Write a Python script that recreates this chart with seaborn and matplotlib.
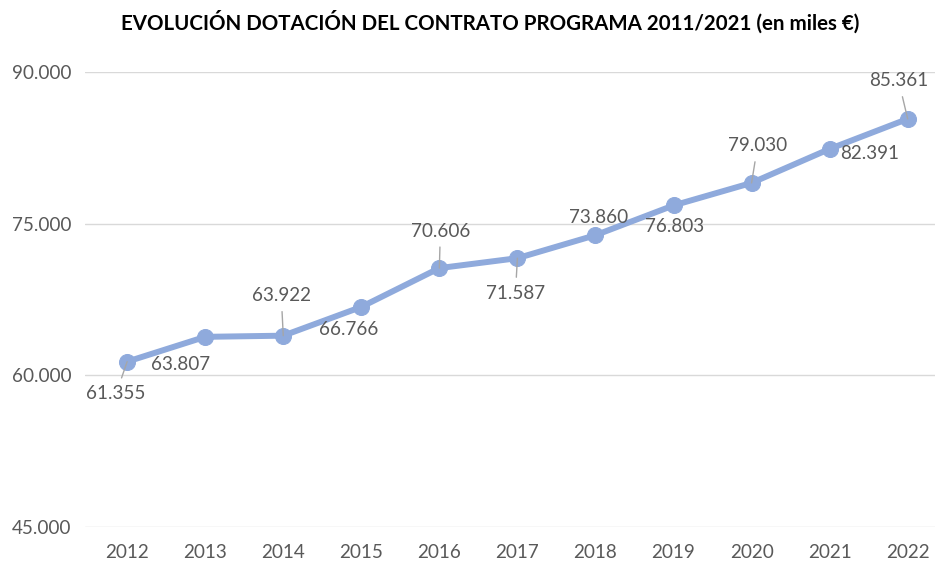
import matplotlib
matplotlib.use("Agg")
import matplotlib.pyplot as plt
import matplotlib.ticker as mticker
import seaborn as sns
import pandas as pd

years = [2012, 2013, 2014, 2015, 2016, 2017, 2018, 2019, 2020, 2021, 2022]
values = [61355, 63807, 63922, 66766, 70606, 71587, 73860, 76803, 79030, 82391, 85361]
labels = ["61.355", "63.807", "63.922", "66.766", "70.606", "71.587",
          "73.860", "76.803", "79.030", "82.391", "85.361"]
y_ticks = [45000, 60000, 75000, 90000]
title = "EVOLUCIÓN DOTACIÓN DEL CONTRATO PROGRAMA 2011/2021 (en miles €)"

# label offsets in pixels (dx, dy) and whether a leader line is drawn
offsets = [(-11, -32), (-25, -28), (-2, 40), (-13, -23), (1, 37), (-2, -35),
           (3, 18), (1, -21), (6, 37), (40, -5), (-9, 38)]
leaders = [True, False, True, False, True, True, False, False, True, False, True]

sns.set_theme(style="white")
plt.rcParams["font.family"] = ["Lato", "DejaVu Sans"]

fig = plt.figure(figsize=(9.36, 5.61), dpi=100)
ax = fig.add_axes([85 / 936, 1 - 527 / 561, 850 / 936, (527 - 72) / 561])

line_color = "#8faadc"
text_color = "#595959"

df = pd.DataFrame({"year": years, "value": values})
sns.lineplot(data=df, x="year", y="value", ax=ax, color=line_color,
             linewidth=4.3, marker="o", markersize=11.5,
             markeredgecolor=line_color, markerfacecolor=line_color, zorder=3)

ax.set_xlim(2011.46, 2022.35)
ax.set_ylim(45000, 90000)
ax.set_yticks(y_ticks)
ax.yaxis.set_major_formatter(mticker.FuncFormatter(
    lambda v, p: f"{int(v):,}".replace(",", ".")))
ax.set_xticks(years)
ax.set_xticklabels([str(y) for y in years])
ax.grid(axis="y", color="#d9d9d9", linewidth=1)
ax.grid(axis="x", visible=False)
for s in ax.spines.values():
    s.set_visible(False)
ax.tick_params(axis="both", length=0, labelsize=13.6, colors=text_color)
ax.tick_params(axis="y", pad=10)
ax.tick_params(axis="x", pad=12)
ax.set_xlabel("")
ax.set_ylabel("")

for yr, v, lab, (dx, dy), ld in zip(years, values, labels, offsets, leaders):
    kw = {}
    if ld:
        kw["arrowprops"] = dict(arrowstyle="-", color="#a6a6a6", lw=1,
                                shrinkA=3, shrinkB=0)
    ax.annotate(lab, xy=(yr, v), xytext=(dx, dy), textcoords="offset pixels",
                ha="center", va="center", fontsize=13.6, color=text_color,
                zorder=4, **kw)

fig.text(490 / 936, 1 - 22 / 561, title, ha="center", va="center",
         fontsize=14.8, fontweight="bold", color="black")

fig.savefig("out.png", dpi=100)
